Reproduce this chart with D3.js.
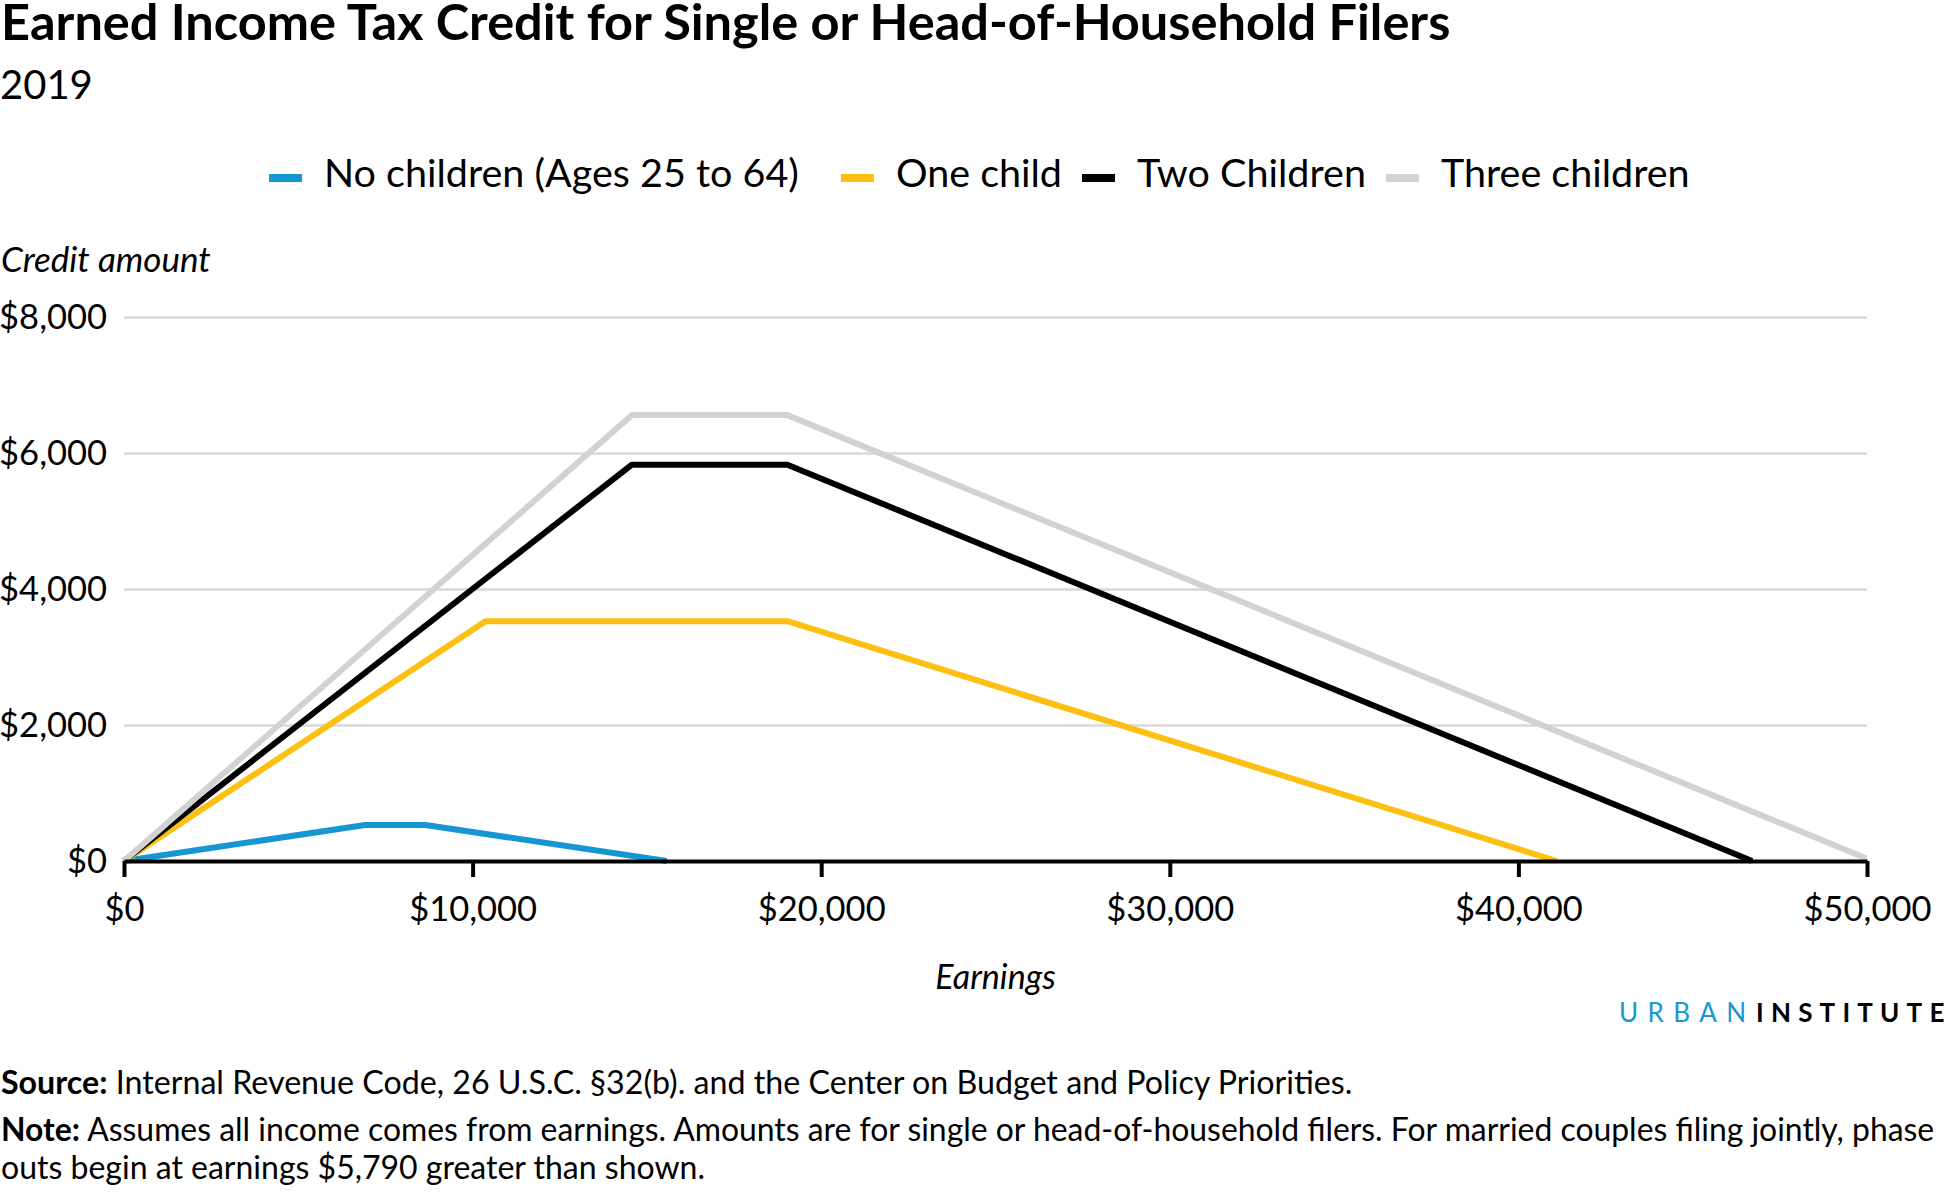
<!DOCTYPE html>
<html>
<head>
<meta charset="utf-8">
<script src="https://cdn.jsdelivr.net/npm/d3@7"></script>
<style>
  html, body { margin: 0; padding: 0; background: #fff; }
  svg { display: block; font-family: Lato, "Open Sans", sans-serif; }
</style>
</head>
<body>
<svg id="chart" width="1950" height="1200"></svg>
<script>
// ---- data ----
const seriesNames = ["No children (Ages 25 to 64)", "One child", "Two Children", "Three children"];
const seriesColors = ["#1696d2", "#fdbf11", "#000000", "#d2d2d2"];
const noChildrenX = [0, 6920, 8650, 15570];
const noChildrenY = [0, 529, 529, 0];
const oneChildX = [0, 10370, 19030, 41094];
const oneChildY = [0, 3526, 3526, 0];
const twoChildrenX = [0, 14570, 19030, 46703];
const twoChildrenY = [0, 5828, 5828, 0];
const threeChildrenX = [0, 14570, 19030, 50162];
const threeChildrenY = [0, 6557, 6557, 0];
const xTicks = [0, 10000, 20000, 30000, 40000, 50000];
const yTicks = [0, 2000, 4000, 6000, 8000];

const seriesX = [noChildrenX, oneChildX, twoChildrenX, threeChildrenX];
const seriesY = [noChildrenY, oneChildY, twoChildrenY, threeChildrenY];

// ---- layout ----
const svg = d3.select("#chart");
const mLeft = 124, mRight = 1867, mTop = 317, mBottom = 861;
const x = d3.scaleLinear().domain([0, 50000]).range([mLeft, mRight]);
const y = d3.scaleLinear().domain([0, 8000]).range([mBottom, mTop]);
const money = d3.format("$,");

// title
svg.append("text").attr("x", 1).attr("y", 40)
  .attr("font-size", 50.5).attr("font-weight", 700).attr("fill", "#000")
  .text("Earned Income Tax Credit for Single or Head-of-Household Filers");
svg.append("text").attr("x", 0).attr("y", 99)
  .attr("font-size", 40).attr("fill", "#000").text("2019");

// legend
let lx = 269;
seriesNames.forEach((name, i) => {
  svg.append("rect").attr("x", lx).attr("y", 174).attr("width", 33).attr("height", 8)
    .attr("fill", seriesColors[i]);
  const t = svg.append("text").attr("x", lx + 55).attr("y", 187)
    .attr("font-size", 39.5).attr("fill", "#000").text(name);
  const w = t.node().getComputedTextLength();
  lx = lx + 55 + w + (i === 0 ? 42 : 20);
});

// y axis title
svg.append("text").attr("x", 1).attr("y", 272)
  .attr("font-size", 35).attr("font-style", "italic").attr("fill", "#000").text("Credit amount");

// gridlines + y labels
const yAxis = d3.axisLeft(y).tickValues(yTicks).tickFormat(money).tickSize(-(mRight - mLeft)).tickPadding(17);
const gy = svg.append("g").attr("transform", `translate(${mLeft},0)`).call(yAxis);
gy.select(".domain").remove();
gy.selectAll(".tick line").attr("stroke", "#dedede").attr("stroke-width", 3);
gy.selectAll(".tick text").attr("font-size", 34.5).attr("font-family", "Lato").attr("fill", "#000").attr("dy", "0.34em");

// clip
svg.append("clipPath").attr("id", "plotclip").append("rect")
  .attr("x", mLeft - 5).attr("y", mTop - 20).attr("width", mRight - mLeft + 5).attr("height", mBottom - mTop + 40);

// lines
const line = d3.line().x(d => x(d[0])).y(d => y(d[1]));
const lineG = svg.append("g").attr("clip-path", "url(#plotclip)");
seriesNames.forEach((name, i) => {
  const pts = seriesX[i].map((v, j) => [v, seriesY[i][j]]);
  lineG.append("path").datum(pts).attr("d", line)
    .attr("fill", "none").attr("stroke", seriesColors[i]).attr("stroke-width", 6)
    .attr("stroke-linejoin", "round");
});

// x axis
const xAxis = d3.axisBottom(x).tickValues(xTicks).tickFormat(money).tickSize(16).tickSizeOuter(0).tickPadding(20);
const gx = svg.append("g").attr("transform", `translate(0,${mBottom})`).call(xAxis);
gx.select(".domain").attr("stroke", "#000").attr("stroke-width", 4);
gx.selectAll(".tick line").attr("stroke", "#000").attr("stroke-width", 4);
gx.selectAll(".tick text").attr("font-size", 34.5).attr("font-family", "Lato").attr("fill", "#000").attr("dy", "0.71em");

// x axis title
svg.append("text").attr("x", (mLeft + mRight) / 2).attr("y", 989).attr("text-anchor", "middle")
  .attr("font-size", 34).attr("font-style", "italic").attr("fill", "#000").text("Earnings");

// logo
svg.append("text").attr("x", 1619).attr("y", 1022)
  .attr("font-size", 26).attr("letter-spacing", "9.4px").attr("fill", "#1696d2").text("URBAN");
const inst = svg.append("text").attr("x", 1756).attr("y", 1022)
  .attr("font-size", 26).attr("font-weight", 700).attr("fill", "#000");
inst.append("tspan").attr("letter-spacing", "7.2px").text("INSTITUT");
inst.append("tspan").attr("letter-spacing", "0px").text("E");

// source + note
const src = svg.append("text").attr("x", 1).attr("y", 1094).attr("font-size", 32.2).attr("fill", "#000");
src.append("tspan").attr("font-weight", 700).text("Source:");
src.append("tspan").text(" Internal Revenue Code, 26 U.S.C. §32(b). and the Center on Budget and Policy Priorities.");
const note = svg.append("text").attr("x", 1).attr("y", 1141).attr("font-size", 31.9).attr("fill", "#000");
note.append("tspan").attr("font-weight", 700).text("Note:");
note.append("tspan").text(" Assumes all income comes from earnings. Amounts are for single or head-of-household filers. For married couples filing jointly, phase");
svg.append("text").attr("x", 1).attr("y", 1179).attr("font-size", 32).attr("fill", "#000")
  .text("outs begin at earnings $5,790 greater than shown.");
</script>
</body>
</html>
